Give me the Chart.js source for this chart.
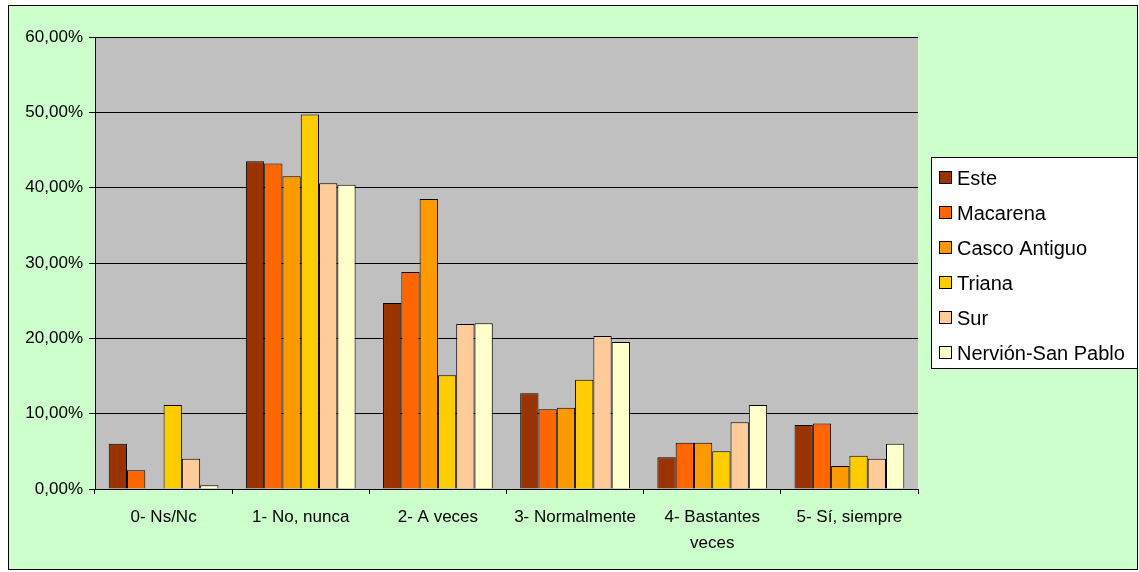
<!DOCTYPE html>
<html>
<head>
<meta charset="utf-8">
<script src="https://cdn.jsdelivr.net/npm/chart.js@4"></script>
<style>
  body { margin: 0; background: #fff; }
  #wrap { width: 1139px; height: 572px; position: relative; }
</style>
</head>
<body>
<div id="wrap"><canvas id="chart"></canvas></div>
<script>
const categories = ['0- Ns/Nc', '1- No, nunca', '2- A veces', '3- Normalmente', ['4- Bastantes', 'veces'], '5- Sí, siempre'];
const este = [6.0, 43.5, 24.7, 12.7, 4.2, 8.5];
const macarena = [2.5, 43.2, 28.8, 10.6, 6.15, 8.7];
const cascoAntiguo = [0, 41.5, 38.5, 10.8, 6.15, 3.05];
const triana = [11.15, 49.7, 15.1, 14.5, 5.0, 4.4];
const sur = [4.0, 40.6, 21.9, 20.3, 8.85, 4.0];
const nervion = [0.5, 40.4, 22.0, 19.5, 11.15, 6.0];
const seriesNames = ['Este', 'Macarena', 'Casco Antiguo', 'Triana', 'Sur', 'Nervión-San Pablo'];
const seriesColors = ['#993300', '#FF6600', '#FF9900', '#FFCC00', '#FFCC99', '#FFFFCC'];
const yTicks = [0, 10, 20, 30, 40, 50, 60];

const font = '"Liberation Sans", Arial, sans-serif';

// fondo verde, marco y area gris del grafico
const backgroundPlugin = {
    id: 'background',
    beforeDraw(chart) {
        const ctx = chart.ctx;
        const a = chart.chartArea;
        ctx.save();
        ctx.fillStyle = '#fff';
        ctx.fillRect(0, 0, chart.width, chart.height);
        ctx.fillStyle = '#CCFFCC';
        ctx.fillRect(8, 5, 1129, 564);
        ctx.strokeStyle = '#000';
        ctx.lineWidth = 1;
        ctx.strokeRect(8.5, 5.5, 1129, 564);
        ctx.fillStyle = '#C0C0C0';
        ctx.fillRect(a.left, a.top, a.right - a.left, a.bottom - a.top);
        ctx.restore();
    }
};

// leyenda con recuadro a la derecha
const legendPlugin = {
    id: 'boxLegend',
    afterDraw(chart) {
        const ctx = chart.ctx;
        const x = 931, y = 157, w = 206, h = 211;
        ctx.save();
        ctx.fillStyle = '#fff';
        ctx.fillRect(x, y, w, h);
        ctx.strokeStyle = '#000';
        ctx.lineWidth = 1;
        ctx.strokeRect(x + 0.5, y + 0.5, w, h);
        ctx.font = '20px ' + font;
        ctx.textBaseline = 'middle';
        chart.data.datasets.forEach((ds, i) => {
            const cy = 178 + i * 35;
            ctx.fillStyle = ds.backgroundColor;
            ctx.fillRect(939, cy - 6, 12, 12);
            ctx.strokeStyle = '#000';
            ctx.strokeRect(939.5, cy - 6.5, 12, 12);
            ctx.fillStyle = '#000';
            ctx.fillText(ds.label, 957, cy + 1);
        });
        ctx.restore();
    }
};

const seriesData = [este, macarena, cascoAntiguo, triana, sur, nervion];

new Chart(document.getElementById('chart'), {
    type: 'bar',
    data: {
        labels: categories,
        datasets: seriesNames.map((name, i) => ({
            label: name,
            data: seriesData[i],
            backgroundColor: seriesColors[i],
            borderColor: '#000',
            borderWidth: 1,
            categoryPercentage: 0.8,
            barPercentage: 1.0
        }))
    },
    options: {
        responsive: true,
        maintainAspectRatio: false,
        animation: false,
        layout: { padding: { left: 8, top: 37, right: 221, bottom: 0 } },
        plugins: {
            legend: { display: false },
            tooltip: { enabled: false }
        },
        scales: {
            x: {
                afterFit: s => { s.height = 83; },
                grid: { display: true, drawOnChartArea: false, offset: true, color: '#000', tickLength: 5 },
                border: { color: '#000', width: 1 },
                ticks: {
                    color: '#000',
                    font: { family: font, size: 17, lineHeight: 1.55 },
                    padding: 10,
                    maxRotation: 0,
                    autoSkip: false
                }
            },
            y: {
                min: 0,
                max: 60,
                afterFit: s => { s.width = 87; },
                afterBuildTicks: s => { s.ticks = yTicks.map(v => ({ value: v })); },
                grid: { color: '#000', tickLength: 6 },
                border: { color: '#000', width: 1 },
                ticks: {
                    color: '#000',
                    font: { family: font, size: 17 },
                    padding: 6,
                    callback: v => v.toFixed(2).replace('.', ',') + '%'
                }
            }
        }
    },
    plugins: [backgroundPlugin, legendPlugin]
});
</script>
</body>
</html>
